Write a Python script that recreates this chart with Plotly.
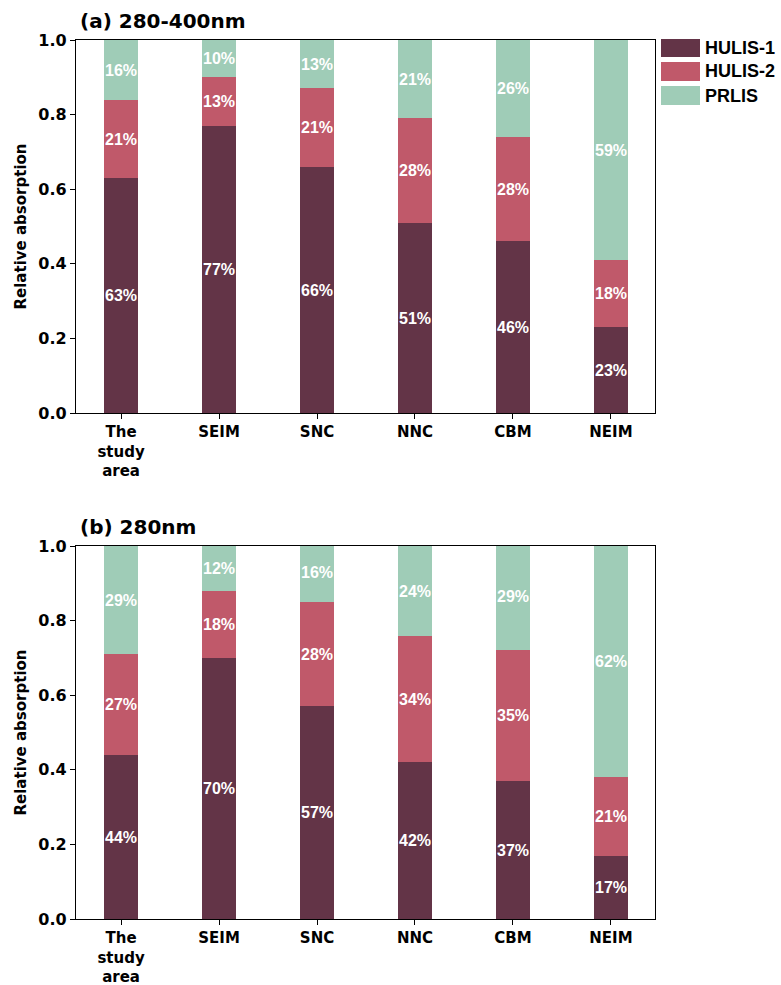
import plotly.graph_objects as go

# Sampling regions
regions = ["The<br>study<br>area", "SEIM", "SNC", "NNC", "CBM", "NEIM"]
series_names = ["HULIS-1", "HULIS-2", "PRLIS"]
colors = ["#633447", "#C0596A", "#9FCCB7"]

# (a) 280-400nm relative absorption fractions
a_hulis1 = [0.63, 0.77, 0.66, 0.51, 0.46, 0.23]
a_hulis2 = [0.21, 0.13, 0.21, 0.28, 0.28, 0.18]
a_prlis = [0.16, 0.10, 0.13, 0.21, 0.26, 0.59]

# (b) 280nm relative absorption fractions
b_hulis1 = [0.44, 0.70, 0.57, 0.42, 0.37, 0.17]
b_hulis2 = [0.27, 0.18, 0.28, 0.34, 0.35, 0.21]
b_prlis = [0.29, 0.12, 0.16, 0.24, 0.29, 0.62]

y_ticks = [0.0, 0.2, 0.4, 0.6, 0.8, 1.0]

W, H = 781, 985
ML, MR, MT, MB = 76, 126, 40, 66
PLOT_H = H - MT - MB
PLOT_W = W - ML - MR


def px_x(x):
    return (x - ML) / PLOT_W


def px_y(y):
    return (H - MB - y) / PLOT_H


fig = go.Figure()

xs = list(range(len(regions)))
label_font = dict(family="Liberation Sans", size=16, color="white", weight="bold")
panels = [("", (a_hulis1, a_hulis2, a_prlis)), ("2", (b_hulis1, b_hulis2, b_prlis))]
for suffix, data in panels:
    for name, vals, col in zip(series_names, data, colors):
        fig.add_trace(go.Bar(
            x=xs, y=vals, name=name, width=0.35,
            marker=dict(color=col, line=dict(width=0)),
            text=[f"{round(v * 100)}%" for v in vals],
            textposition="inside", insidetextanchor="middle", textangle=0,
            constraintext="none", textfont=label_font,
            xaxis="x" + suffix, yaxis="y" + suffix,
            showlegend=False,
        ))

xtick_font = dict(family="DejaVu Sans", size=15, color="black", weight="bold")
ytick_font = dict(family="DejaVu Sans", size=16, color="black", weight="bold")
xaxis_common = dict(
    range=[-0.46, 5.45], tickmode="array", tickvals=xs, ticktext=regions,
    ticks="outside", ticklen=5, tickwidth=1.2, tickcolor="black",
    showline=True, linecolor="black", linewidth=1.3, mirror=True,
    showgrid=False, zeroline=False, tickfont=xtick_font, automargin=False,
)
yaxis_common = dict(
    range=[0, 1.0], tickmode="array", tickvals=y_ticks,
    ticktext=[f"{t:.1f}" for t in y_ticks],
    ticks="outside", ticklen=5, tickwidth=1.2, tickcolor="black",
    showline=True, linecolor="black", linewidth=1.3, mirror=True,
    showgrid=False, zeroline=False, tickfont=ytick_font, automargin=False,
    title=dict(text="Relative absorption", standoff=8,
               font=dict(family="DejaVu Sans", size=15, color="black", weight="bold")),
)

top_a, bot_a = 40, 413
top_b, bot_b = 546, 919

fig.update_layout(
    width=W, height=H,
    margin=dict(l=ML, r=MR, t=MT, b=MB, autoexpand=False),
    paper_bgcolor="white", plot_bgcolor="white",
    barmode="stack", bargap=0,
    showlegend=False,
    xaxis=dict(xaxis_common, domain=[0, 1], anchor="y"),
    yaxis=dict(yaxis_common, domain=[px_y(bot_a), px_y(top_a)], anchor="x"),
    xaxis2=dict(xaxis_common, domain=[0, 1], anchor="y2"),
    yaxis2=dict(yaxis_common, domain=[px_y(bot_b), px_y(top_b)], anchor="x2"),
)

# Panel titles
title_font = dict(family="DejaVu Sans", size=20, color="black", weight="bold")
for text, y in [("(a) 280-400nm", 21), ("(b) 280nm", 527)]:
    fig.add_annotation(
        text=text, xref="paper", yref="paper", x=px_x(78), y=px_y(y),
        xanchor="left", yanchor="middle", showarrow=False, font=title_font,
    )

# Legend drawn as swatches with labels at the top right
legend_font = dict(family="Liberation Sans", size=18, color="black", weight="bold")
swatch_rows = [(39, 57), (62, 81), (86, 105)]
for name, col, (y0, y1) in zip(series_names, colors, swatch_rows):
    fig.add_shape(
        type="rect", xref="paper", yref="paper",
        x0=px_x(661), x1=px_x(700), y0=px_y(y1), y1=px_y(y0),
        fillcolor=col, line=dict(width=0),
    )
    fig.add_annotation(
        text=name, xref="paper", yref="paper", x=px_x(703), y=px_y((y0 + y1) / 2),
        xanchor="left", yanchor="middle", showarrow=False, font=legend_font,
    )

fig.write_html("out.html")
